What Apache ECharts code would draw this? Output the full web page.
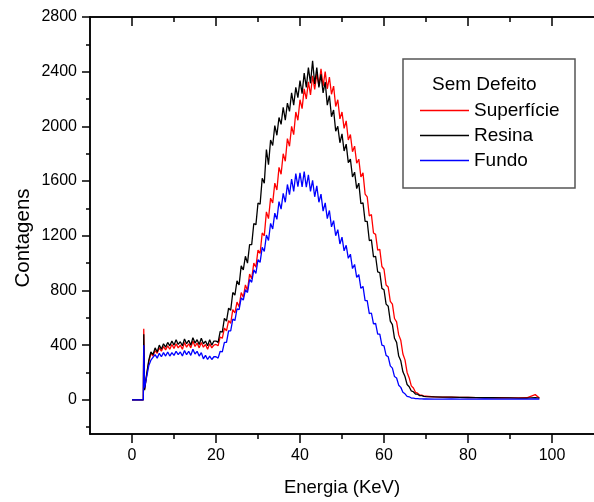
<!DOCTYPE html>
<html>
<head>
<meta charset="utf-8">
<script src="https://cdn.jsdelivr.net/npm/echarts@6/dist/echarts.min.js"></script>
<style>
  html, body { margin: 0; padding: 0; background: #fff; }
  #main { width: 594px; height: 502px; }
</style>
</head>
<body>
<div id="main"></div>
<script>
// energia dos canais (keV)
var energia = [0, 2.7, 2.8,
  3.0, 3.5, 4.0, 4.5, 5.0, 5.5, 6.0, 6.5, 7.0, 7.5, 8.0, 8.5, 9.0, 9.5,
  10.0, 10.5, 11.0, 11.5, 12.0, 12.5, 13.0, 13.5, 14.0, 14.5, 15.0, 15.5, 16.0, 16.5, 17.0, 17.5, 18.0, 18.5, 19.0, 19.5,
  20.0, 20.5, 21.0, 21.5, 22.0, 22.5, 23.0, 23.5, 24.0, 24.5, 25.0, 25.5, 26.0, 26.5, 27.0, 27.5, 28.0, 28.5, 29.0, 29.5,
  30.0, 30.5, 31.0, 31.5, 32.0, 32.5, 33.0, 33.5, 34.0, 34.5, 35.0, 35.5, 36.0, 36.5, 37.0, 37.5, 38.0, 38.5, 39.0, 39.5,
  40.0, 40.5, 41.0, 41.5, 42.0, 42.5, 43.0, 43.5, 44.0, 44.5, 45.0, 45.5, 46.0, 46.5, 47.0, 47.5, 48.0, 48.5, 49.0, 49.5,
  50.0, 50.5, 51.0, 51.5, 52.0, 52.5, 53.0, 53.5, 54.0, 54.5, 55.0, 55.5, 56.0, 56.5, 57.0, 57.5, 58.0, 58.5, 59.0, 59.5,
  60.0, 60.5, 61.0, 61.5, 62.0, 62.5, 63.0, 63.5, 64.0, 64.5, 65.0, 65.5, 66.0, 66.5, 67.0, 67.5, 68.0, 68.5, 69.0, 69.5,
  70.0,
  72, 74, 76, 78, 80, 82, 84, 86, 88, 90, 92, 94, 96, 97];

var superficie = [0, 0, 520,
  80, 180, 280, 340, 320, 360, 340, 380, 355, 390, 365, 395, 370, 405,
  375, 410, 380, 400, 370, 420, 385, 410, 380, 430, 390, 415, 380, 420, 385, 405, 370, 410, 380, 400,
  405, 395, 460, 450, 525, 505, 580, 560, 660, 635, 715, 680, 785, 750, 840, 800, 920, 885, 1000, 970,
  1095, 1070, 1220, 1200, 1375, 1325, 1475, 1440, 1585, 1535, 1700, 1650, 1800, 1745, 1910, 1855, 2000, 1940, 2105, 2045,
  2195, 2130, 2275, 2200, 2325, 2230, 2370, 2270, 2385, 2295, 2420, 2295, 2400, 2275, 2360, 2235, 2295, 2145, 2195, 2055,
  2105, 1985, 2040, 1900, 1940, 1815, 1855, 1730, 1760, 1630, 1660, 1505, 1485, 1345, 1355, 1220, 1210, 1095, 1100, 975,
  955, 840, 825, 720, 700, 595, 570, 475, 435, 335, 292, 200, 160, 102, 86, 55, 49, 35, 34, 26,
  26,
  22, 20, 19, 18, 17, 16, 16, 15, 15, 14, 14, 15, 38, 14];

var resina = [0, 0, 480,
  70, 190, 290, 350, 330, 380, 350, 400, 370, 410, 385, 420, 395, 430,
  400, 440, 405, 425, 395, 445, 410, 435, 400, 455, 415, 440, 405, 450, 410, 430, 395, 440, 400, 430,
  430, 420, 500, 495, 595, 575, 670, 655, 785, 765, 870, 840, 980, 950, 1050, 1000, 1135, 1135, 1290, 1280,
  1440, 1430, 1620, 1585, 1830, 1720, 1900, 1860, 2005, 1935, 2065, 2015, 2140, 2045, 2170, 2110, 2245, 2155, 2285, 2210,
  2335, 2240, 2390, 2285, 2430, 2315, 2480, 2310, 2430, 2285, 2380, 2245, 2325, 2155, 2225, 2070, 2120, 1965, 2000, 1880,
  1945, 1820, 1870, 1735, 1760, 1630, 1665, 1545, 1585, 1435, 1440, 1305, 1305, 1165, 1170, 1045, 1050, 935, 930, 815,
  805, 700, 685, 575, 550, 450, 420, 320, 285, 205, 170, 112, 96, 65, 59, 42, 41, 30, 30, 25,
  24,
  22, 20, 19, 18, 17, 16, 15, 15, 14, 14, 13, 13, 16, 12];

var fundo = [0, 0, 400,
  90, 170, 250, 290, 310, 330, 305, 340, 315, 345, 320, 350, 320, 345,
  325, 355, 330, 350, 320, 360, 330, 355, 325, 370, 335, 355, 320, 345, 300, 325, 295, 320, 295, 315,
  315, 305, 355, 350, 420, 420, 505, 505, 590, 580, 665, 660, 745, 730, 805, 785, 880, 860, 950, 925,
  1025, 1005, 1115, 1085, 1205, 1165, 1290, 1250, 1365, 1320, 1450, 1395, 1510, 1445, 1575, 1500, 1615, 1525, 1655, 1560,
  1660, 1557, 1670, 1555, 1645, 1525, 1605, 1485, 1565, 1445, 1505, 1380, 1440, 1325, 1385, 1265, 1310, 1200, 1245, 1140,
  1190, 1090, 1130, 1035, 1065, 960, 990, 895, 915, 815, 830, 725, 725, 630, 635, 555, 560, 480, 480, 400,
  395, 325, 315, 248, 232, 170, 160, 107, 91, 55, 44, 25, 22, 13, 12, 9, 8, 7, 7, 6,
  6,
  5, 5, 6, 5, 5, 5, 6, 5, 5, 5, 5, 5, 6, 5];

var ticksX = [0, 20, 40, 60, 80, 100];
var ticksXMenor = [0, 10, 20, 30, 40, 50, 60, 70, 80, 90, 100];
var ticksY = [0, 400, 800, 1200, 1600, 2000, 2400, 2800];
var ticksYMenor = [-200, 0, 200, 400, 600, 800, 1000, 1200, 1400, 1600, 1800, 2000, 2200, 2400, 2600, 2800];

var fonte = '"Liberation Sans", Arial, sans-serif';

function pares(valores) {
  var out = [];
  for (var i = 0; i < energia.length && i < valores.length; i++) {
    out.push([energia[i], valores[i]]);
  }
  return out;
}

function rotulo(ticks, margem) {
  return {
    customValues: ticks, fontSize: 16, color: '#000', fontFamily: fonte, margin: margem,
    formatter: function (v) { return String(v); }
  };
}

function eixoX(pos, ticks, comp, dentro, label) {
  return {
    type: 'value', min: -10, max: 110, position: pos,
    axisLine: { show: true, onZero: false, lineStyle: { color: '#000', width: 1.5 } },
    axisTick: { show: true, customValues: ticks, length: comp, inside: dentro, lineStyle: { color: '#000', width: 1.5 } },
    axisLabel: label ? rotulo(ticks, 14) : { show: false },
    splitLine: { show: false }
  };
}

function eixoY(ticks, comp, label) {
  return {
    type: 'value', min: -250, max: 2800, position: 'left',
    axisLine: { show: true, onZero: false, lineStyle: { color: '#000', width: 1.5 } },
    axisTick: { show: true, customValues: ticks, length: comp, lineStyle: { color: '#000', width: 1.5 } },
    axisLabel: label ? rotulo(ticks, 13) : { show: false },
    splitLine: { show: false }
  };
}

var myChart = echarts.init(document.getElementById('main'));

var xMaior = eixoX('bottom', ticksX, 9, false, true);
xMaior.name = 'Energia (KeV)';
xMaior.nameLocation = 'middle';
xMaior.nameGap = 44;
xMaior.nameTextStyle = { fontSize: 18.5, color: '#000', fontFamily: fonte };

var option = {
  animation: false,
  backgroundColor: '#fff',
  grid: { left: 90, top: 17, right: -7, bottom: 68 },
  xAxis: [
    eixoX('bottom', ticksXMenor, 5, false, false),
    xMaior,
    eixoX('top', ticksXMenor, 5, true, false),
    eixoX('top', ticksX, 9, true, false)
  ],
  yAxis: [
    eixoY(ticksYMenor, 4, false),
    eixoY(ticksY, 8, true)
  ],
  legend: {
    orient: 'vertical', left: 420, top: 101, padding: 0,
    itemWidth: 49, itemHeight: 1.5, icon: 'rect', itemGap: 6,
    textStyle: { fontSize: 19, lineHeight: 19, color: '#000', fontFamily: fonte },
    data: ['Superfície', 'Resina', 'Fundo']
  },
  graphic: [
    { type: 'rect', z: 1, shape: { x: 403, y: 59, width: 172, height: 129 },
      style: { fill: '#fff', stroke: '#555', lineWidth: 1.5 } },
    { type: 'text', z: 2, x: 432, y: 85,
      style: { text: 'Sem Defeito', fontSize: 19, fontFamily: fonte, fill: '#000', textVerticalAlign: 'middle' } },
    { type: 'text', x: 23, y: 238, rotation: Math.PI / 2,
      style: { text: 'Contagens', fontSize: 20.5, fontFamily: fonte, fill: '#000', textAlign: 'center', textVerticalAlign: 'middle' } }
  ],
  series: [
    { name: 'Superfície', type: 'line', symbol: 'none', color: '#ff0000', lineStyle: { width: 1.3 }, data: pares(superficie) },
    { name: 'Resina', type: 'line', symbol: 'none', color: '#000000', lineStyle: { width: 1.3 }, data: pares(resina) },
    { name: 'Fundo', type: 'line', symbol: 'none', color: '#0000ff', lineStyle: { width: 1.3 }, data: pares(fundo) }
  ]
};
myChart.setOption(option);
</script>
</body>
</html>
